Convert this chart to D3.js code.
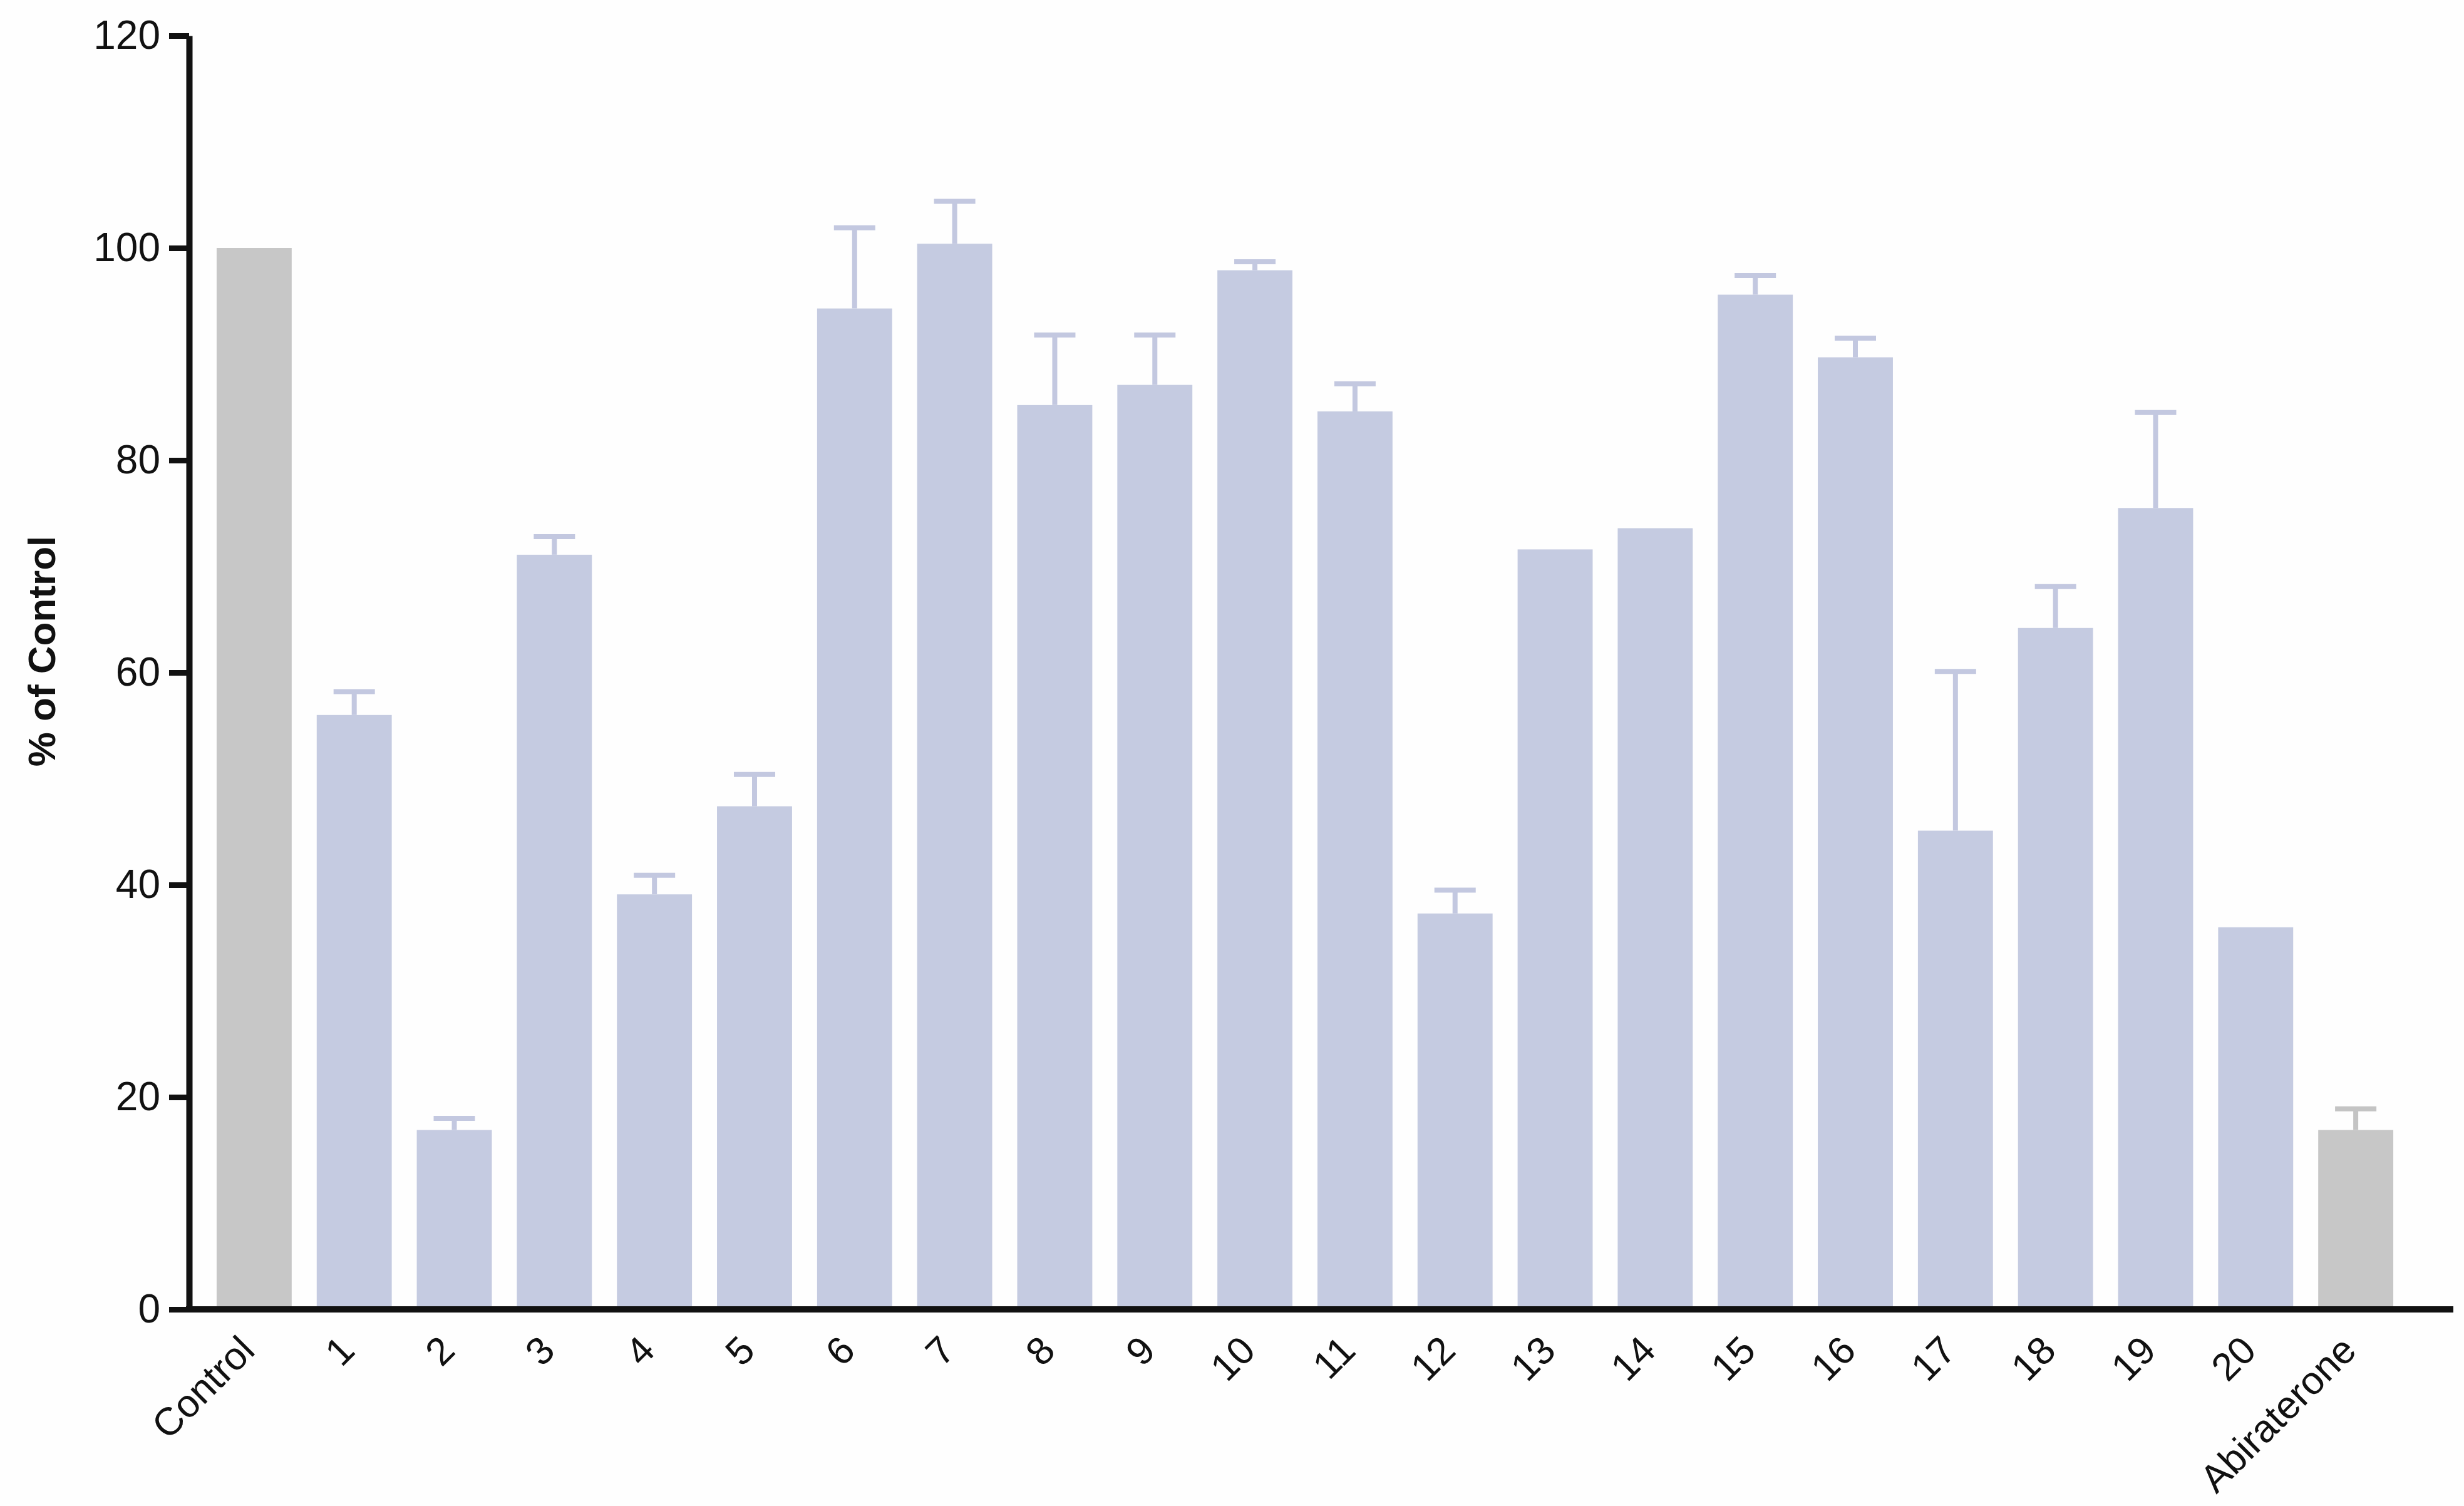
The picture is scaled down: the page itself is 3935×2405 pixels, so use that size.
<!DOCTYPE html>
<html>
<head>
<meta charset="utf-8">
<script src="https://cdn.jsdelivr.net/npm/d3@7"></script>
<style>
  html, body { margin: 0; padding: 0; background: #fefefe; }
  svg { display: block; }
</style>
</head>
<body>
<svg width="3935" height="2405"></svg>
<script>
const svg = d3.select("svg");

const height = +svg.attr("height");
const width = +svg.attr("width");

// compounds tested, in plot order
const categories = ["Control", "1", "2", "3", "4", "5", "6", "7", "8", "9", "10",
    "11", "12", "13", "14", "15", "16", "17", "18", "19", "20", "Abiraterone"];

// mean % of control
const means = [100, 56.0, 16.9, 71.1, 39.1, 47.4, 94.3, 100.4, 85.2, 87.1, 97.9,
    84.6, 37.3, 71.6, 73.6, 95.6, 89.7, 45.1, 64.2, 75.5, 36.0, 16.9];

// upper error (SEM), 0 = none drawn
const errors = [0, 2.2, 1.1, 1.7, 1.8, 3.0, 7.6, 4.0, 6.6, 4.7, 0.8,
    2.6, 2.2, 0, 0, 1.8, 1.8, 15.0, 3.9, 9.0, 0, 2.0];

// reference groups drawn in grey
const greyGroups = ["Control", "Abiraterone"];

const yTicks = [0, 20, 40, 60, 80, 100, 120];

const data = categories.map(function(c, i) {
    return {label: c, mean: means[i], err: errors[i]};
});

//====== Scales ======

const x = d3.scaleBand()
    .domain(categories)
    .range([302, 3866])
    .paddingInner(0.25)
    .paddingOuter(0.275);

const y = d3.scaleLinear()
    .domain([0, 120])
    .range([2091, 57]);

const g = svg.append("g");

//====== Bars ======

g.append("g")
    .selectAll("rect")
    .data(data)
    .enter().append("rect")
        .attr("x", function(d) { return x(d.label) })
        .attr("y", function(d) { return y(d.mean) })
        .attr("width", x.bandwidth())
        .attr("height", function(d) { return y(0) - y(d.mean) })
        .attr("fill", function(d) {
            return greyGroups.includes(d.label) ? "#c7c7c7" : "#c5cbe1";
        });

//====== Error bars ======

const errG = g.append("g")
    .selectAll("g")
    .data(data.filter(function(d) { return d.err > 0 }))
    .enter().append("g")
        .attr("stroke", function(d) {
            return greyGroups.includes(d.label) ? "#c4c4c4" : "#c3c8e0";
        })
        .attr("stroke-width", 8);

errG.append("line")
    .attr("x1", function(d) { return x(d.label) + x.bandwidth() / 2 })
    .attr("x2", function(d) { return x(d.label) + x.bandwidth() / 2 })
    .attr("y1", function(d) { return y(d.mean) })
    .attr("y2", function(d) { return y(d.mean + d.err) });

errG.append("line")
    .attr("x1", function(d) { return x(d.label) + x.bandwidth() / 2 - 33 })
    .attr("x2", function(d) { return x(d.label) + x.bandwidth() / 2 + 33 })
    .attr("y1", function(d) { return y(d.mean + d.err) })
    .attr("y2", function(d) { return y(d.mean + d.err) });

//====== Axes ======

const yAxis = g.append("g")
    .attr("transform", "translate(302,0)")
    .call(d3.axisLeft(y)
        .tickValues(yTicks)
        .tickSize(32)
        .tickSizeOuter(0)
        .tickPadding(14));

yAxis.select(".domain")
    .attr("stroke", "#111")
    .attr("stroke-width", 10);
yAxis.selectAll(".tick line")
    .attr("stroke", "#111")
    .attr("stroke-width", 9);
yAxis.selectAll(".tick text")
    .attr("fill", "#111")
    .style("font-family", "'Liberation Sans', Arial, sans-serif")
    .style("font-size", "64px");

// x axis baseline
g.append("line")
    .attr("x1", 297)
    .attr("x2", 3918)
    .attr("y1", y(0))
    .attr("y2", y(0))
    .attr("stroke", "#111")
    .attr("stroke-width", 10);

// rotated category labels
g.append("g")
    .selectAll("text")
    .data(categories)
    .enter().append("text")
        .text(function(d) { return d })
        .attr("transform", function(d) {
            return "translate(" + (x(d) + x.bandwidth() / 2 + 4) + "," + 2160 + ") rotate(-45)";
        })
        .attr("text-anchor", "end")
        .attr("fill", "#111")
        .style("font-family", "'Liberation Sans', Arial, sans-serif")
        .style("font-size", "62px");

// y axis title
g.append("text")
    .text("% of Control")
    .attr("transform", "translate(88,1040) rotate(-90)")
    .attr("text-anchor", "middle")
    .attr("fill", "#111")
    .style("font-family", "'Liberation Sans', Arial, sans-serif")
    .style("font-weight", "bold")
    .style("font-size", "62px");
</script>
</body>
</html>
